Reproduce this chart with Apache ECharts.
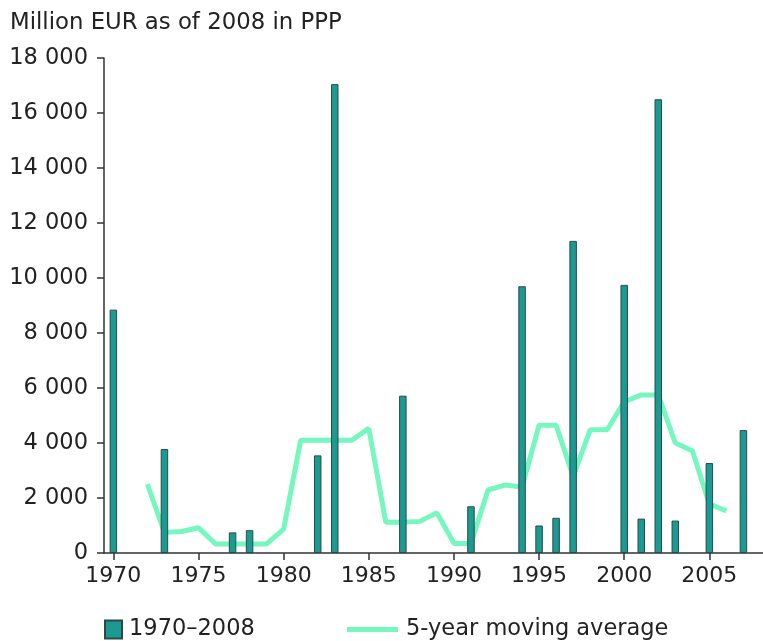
<!DOCTYPE html>
<html>
<head>
<meta charset="utf-8">
<script src="https://cdn.jsdelivr.net/npm/echarts@6/dist/echarts.min.js"></script>
<style>html,body{margin:0;padding:0;background:#fff}#c{width:763px;height:641px}</style>
</head>
<body>
<div id="c"></div>
<script>
var barYears = [1970, 1973, 1977, 1978, 1982, 1983, 1987, 1991, 1994, 1995, 1996, 1997, 2000, 2001, 2002, 2003, 2005, 2007];
var barValues = [8850, 3780, 750, 830, 3550, 17050, 5720, 1700, 9700, 1000, 1280, 11350, 9750, 1250, 16500, 1180, 3270, 4470];
var avgYears = [1972, 1973, 1974, 1975, 1976, 1977, 1978, 1979, 1980, 1981, 1982, 1983, 1984, 1985, 1986, 1987, 1988, 1989, 1990, 1991, 1992, 1993, 1994, 1995, 1996, 1997, 1998, 1999, 2000, 2001, 2002, 2003, 2004, 2005, 2006];
var avgValues = [2500, 750, 780, 920, 330, 330, 330, 330, 870, 4100, 4100, 4100, 4100, 4530, 1120, 1120, 1150, 1460, 350, 350, 2290, 2470, 2400, 4650, 4650, 2780, 4480, 4480, 5500, 5750, 5750, 4000, 3720, 1780, 1530];
var xTicks = [1970, 1975, 1980, 1985, 1990, 1995, 2000, 2005];
var yTicks = [0, 2000, 4000, 6000, 8000, 10000, 12000, 14000, 16000, 18000];
var barName = '1970–2008';
var lineName = '5-year moving average';
var unitLabel = 'Million EUR as of 2008 in PPP';

var font = 'Verdana, "DejaVu Sans", sans-serif';
var chart = echarts.init(document.getElementById('c'), null, {renderer: 'canvas'});
function fmt(v) { return String(v).replace(/\B(?=(\d{3})+(?!\d))/g, ' '); }
chart.setOption({
  animation: false,
  textStyle: {fontFamily: font},
  title: {text: unitLabel, left: 5, top: 7, textStyle: {fontFamily: font, fontSize: 22.8, fontWeight: 'normal', color: '#222'}},
  grid: {left: 104, right: 0, top: 58, bottom: 88, containLabel: false},
  legend: [{
    data: [{name: barName, icon: 'rect'}],
    left: 104, top: 618, padding: 0, itemWidth: 17, itemHeight: 18, itemGap: 10,
    textStyle: {fontFamily: font, fontSize: 22.5, color: '#222', padding: [0, 0, 0, 2]}
  }, {
    data: [{name: lineName, icon: 'rect'}],
    left: 347, top: 618, padding: 0, itemWidth: 51, itemHeight: 5, itemGap: 10,
    textStyle: {fontFamily: font, fontSize: 22.5, color: '#222', padding: [0, 0, 0, 3]}
  }],
  xAxis: {
    type: 'value', min: 1969.45, max: 2008.15,
    axisLine: {show: true, lineStyle: {color: '#333', width: 1.5}},
    axisTick: {show: true, length: 7, customValues: xTicks, lineStyle: {color: '#333', width: 1.5}},
    axisLabel: {customValues: xTicks, fontSize: 22, color: '#222', margin: 12, fontFamily: font, formatter: function (v) { return String(v); }},
    splitLine: {show: false}
  },
  yAxis: {
    type: 'value', min: 0, max: 18000, interval: 2000,
    axisLine: {show: true, lineStyle: {color: '#333', width: 1.5}},
    axisTick: {show: true, length: 7, lineStyle: {color: '#333', width: 1.5}},
    axisLabel: {fontSize: 22.5, color: '#222', margin: 16, fontFamily: font, formatter: fmt},
    splitLine: {show: false}
  },
  series: [{
    name: lineName, type: 'line', z: 2,
    data: avgYears.map(function (y, i) { return [y, avgValues[i]]; }),
    showSymbol: false, symbol: 'none',
    lineStyle: {color: '#76f7bf', width: 5},
    itemStyle: {color: '#76f7bf'}
  }, {
    name: barName, type: 'bar', z: 3, barWidth: 7.5,
    data: barYears.map(function (y, i) { return [y, barValues[i]]; }),
    itemStyle: {color: '#1a9a92', borderColor: '#2b4a47', borderWidth: 1}
  }]
});
</script>
</body>
</html>
